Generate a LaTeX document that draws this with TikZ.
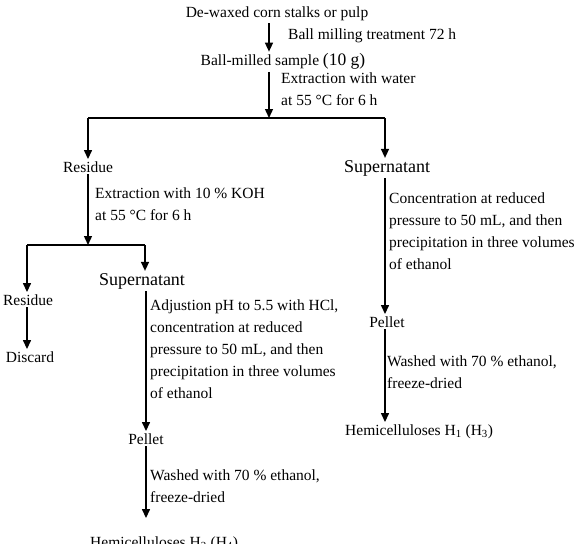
\documentclass[tikz,border=0pt]{standalone}
\usepackage{fontspec}
\setmainfont{Liberation Serif}
\usetikzlibrary{calc, arrows.meta}

\begin{document}
\begin{tikzpicture}[x=1pt, y=-1pt, font=\fontsize{15.5}{22}\selectfont,
    flow/.style={line width=1.4pt, -{Triangle[length=9pt,width=8pt]}},
    wire/.style={line width=1.4pt},
    item/.style={anchor=base, inner sep=2pt},
    big/.style={font=\fontsize{18}{22}\selectfont},
    note/.style={anchor=north west, align=left, inner sep=0pt}]

    \useasboundingbox (0,0) rectangle (583,543);

    % --- Top: raw material and ball milling ---
    \node[item] (corn) at (277,18) {De-waxed corn stalks or pulp};
    \node[item] (milled) at (283,66) {Ball-milled sample {\fontsize{17.5}{22}\selectfont(10 g)}};
    \coordinate (split1) at (269,118);
    \coordinate (splitL) at (88,118);
    \coordinate (splitR) at (385,118);

    \draw[flow] (corn.south -| split1) -- (milled.north -| split1);
    \node[note] (mill) at (288,29) {Ball milling treatment 72 h};
    \draw[flow] (milled.south -| split1) -- (split1);
    \node[note] (water) at (281,73) {Extraction with water\\at 55 °C for 6 h};

    % --- First split ---
    \draw[wire] (splitL) -- (splitR);
    \node[item] (res1) at (88,172) {Residue};
    \node[item, big] (sup1) at (387,172) {Supernatant};
    \draw[flow] (splitL) -- (res1.north);
    \draw[flow] (splitR) -- (sup1.north -| splitR);

    % --- Left branch: KOH extraction ---
    \coordinate (split2) at (88,245);
    \coordinate (split2L) at (27,245);
    \coordinate (split2R) at (145,245);
    \draw[flow] (res1.south) -- (split2);
    \node[note] (koh) at (95,188) {Extraction with 10 \% KOH\\at 55 °C for 6 h};
    \draw[wire] (split2L) -- (split2R);

    \node[item] (res2) at (28,305) {Residue};
    \node[item, big] (sup2) at (142,285) {Supernatant};
    \node[item] (discard) at (30,362) {Discard};
    \draw[flow] (split2L) -- (res2.north -| split2L);
    \draw[flow] (split2R) -- (sup2.north -| split2R);
    \draw[flow] (res2.south -| split2L) -- (discard.north -| split2L);

    \node[item] (pellet2) at (146,444) {Pellet};
    \node[item, anchor=base west] (hemi2) at (88,547) {Hemicelluloses H\textsubscript{2} (H\textsubscript{4})};
    \draw[flow] (sup2.south -| pellet2) -- (pellet2.north);
    \node[note] (acid) at (150,300) {Adjustion pH to 5.5 with HCl,\\concentration at reduced\\pressure to 50 mL, and then\\precipitation in three volumes\\of ethanol};
    \draw[flow, shorten >=16pt] (pellet2.south) -- (pellet2.south |- hemi2.north);
    \node[note] (wash2) at (150,470) {Washed with 70 \% ethanol,\\freeze-dried};

    % --- Right branch: water-soluble part ---
    \node[item] (pellet1) at (387,327) {Pellet};
    \node[item, anchor=base west] (hemi1) at (343,435) {Hemicelluloses H\textsubscript{1} (H\textsubscript{3})};
    \draw[flow] (sup1.south -| splitR) -- (pellet1.north -| splitR);
    \node[note] (conc) at (389,193) {Concentration at reduced\\pressure to 50 mL, and then\\precipitation in three volumes\\of ethanol};
    \draw[flow] (pellet1.south -| splitR) -- (hemi1.north -| splitR);
    \node[note] (wash1) at (387,356) {Washed with 70 \% ethanol,\\freeze-dried};

\end{tikzpicture}
\end{document}
